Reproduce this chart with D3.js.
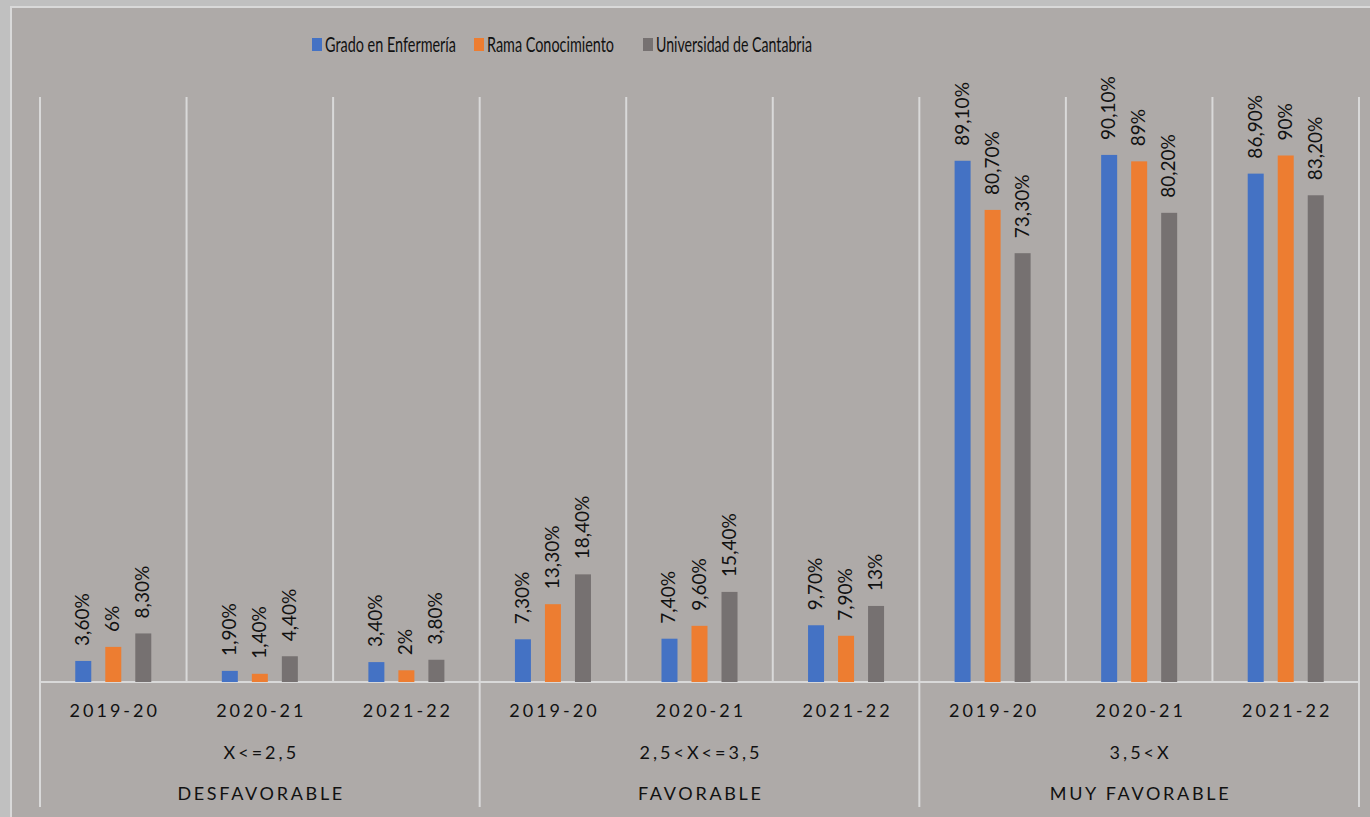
<!DOCTYPE html>
<html><head><meta charset="utf-8">
<script src="https://cdn.jsdelivr.net/npm/d3@7"></script>
<style>
html,body{margin:0;padding:0;background:#c0c0c0;}
svg{display:block;font-family:Lato, "Open Sans", sans-serif;}
</style></head>
<body>
<svg id="chart" width="1370" height="817"></svg>
<script>
const years = ["2019-20","2020-21","2021-22","2019-20","2020-21","2021-22","2019-20","2020-21","2021-22"];
const ranges = ["X<=2,5","2,5<X<=3,5","3,5<X"];
const groups = ["DESFAVORABLE","FAVORABLE","MUY FAVORABLE"];
const seriesNames = ["Grado en Enfermería","Rama Conocimiento","Universidad de Cantabria"];
const grado = [3.6,1.9,3.4,7.3,7.4,9.7,89.1,90.1,86.9];
const rama = [6,1.4,2,13.3,9.6,7.9,80.7,89,90];
const uc = [8.3,4.4,3.8,18.4,15.4,13,73.3,80.2,83.2];
const colors = ["#4472c4","#ed7d31","#767171"];

const svg = d3.select("#chart");
const W = 1370, H = 817;
const plot = {left:40, right:1359, top:97, bottom:682};
const gridColor = "#d9d9d9";

// chart background
svg.append("rect").attr("x",11).attr("y",7).attr("width",W).attr("height",H)
  .attr("fill","#aeaaa8").attr("stroke","#d9d9d9").attr("stroke-width",2);

const idx = d3.range(years.length);
const x = d3.scaleBand().domain(idx).range([plot.left, plot.right]).padding(0);
const bw = x.bandwidth();
const xs = d3.scaleBand().domain([0,1,2]).range([bw/2-45, bw/2+45]).paddingInner(0.467).paddingOuter(0.233);
const y = d3.scaleLinear().domain([0,100]).range([plot.bottom, plot.top]);

// vertical grid lines
const g = svg.append("g");
idx.concat([years.length]).forEach(i => {
  const xx = i < years.length ? x(i) : plot.right;
  const full = (i % 3 === 0);
  g.append("line").attr("x1",xx).attr("x2",xx)
    .attr("y1",plot.top).attr("y2", full ? 807 : plot.bottom)
    .attr("stroke",gridColor).attr("stroke-width",2);
});
// baseline
g.append("line").attr("x1",plot.left).attr("x2",plot.right)
  .attr("y1",plot.bottom).attr("y2",plot.bottom)
  .attr("stroke",gridColor).attr("stroke-width",2);

const fmt = v => (Number.isInteger(v) ? String(v) : v.toFixed(2).replace(".",",")) + "%";
const all = [grado, rama, uc];

all.forEach((vals, s) => {
  svg.append("g").selectAll("rect").data(vals).join("rect")
    .attr("x",(d,i)=>x(i)+xs(s))
    .attr("width",xs.bandwidth())
    .attr("y",d=>y(d))
    .attr("height",d=>y(0)-y(d))
    .attr("fill",colors[s]);
  svg.append("g").selectAll("text").data(vals).join("text")
    .attr("transform",(d,i)=>`translate(${x(i)+xs(s)+xs.bandwidth()/2+6},${y(d)-15}) rotate(-90)`)
    .attr("font-size",19).attr("fill","#111")
    .text(d=>fmt(d));
});

// category axis labels
const ls = 3;
svg.append("g").selectAll("text").data(years).join("text")
  .attr("x",(d,i)=>x(i)+bw/2+ls/2).attr("y",717)
  .attr("text-anchor","middle").attr("font-size",18).attr("letter-spacing",ls)
  .attr("fill","#111").text(d=>d);
svg.append("g").selectAll("text").data(ranges).join("text")
  .attr("x",(d,i)=>x(i*3+1)+bw/2+ls/2).attr("y",759)
  .attr("text-anchor","middle").attr("font-size",18).attr("letter-spacing",ls)
  .attr("fill","#111").text(d=>d);
const ls2 = 2.7;
svg.append("g").selectAll("text").data(groups).join("text")
  .attr("x",(d,i)=>x(i*3+1)+bw/2+ls2/2).attr("y",800)
  .attr("text-anchor","middle").attr("font-size",18).attr("letter-spacing",ls2)
  .attr("fill","#111").text(d=>d);

// legend (Calibri-like narrow text: Lato horizontally condensed)
const legX = [312, 474, 643];
const legW = [131, 127, 156];
const leg = svg.append("g");
seriesNames.forEach((n,i)=>{
  leg.append("rect").attr("x",legX[i]).attr("y",38).attr("width",10).attr("height",13).attr("fill",colors[i]);
  const t = leg.append("text").attr("x",0).attr("y",0).attr("font-size",21).attr("fill","#111").text(n);
  const len = t.node().getComputedTextLength();
  t.attr("transform",`translate(${legX[i]+13},52) scale(${legW[i]/len},1)`);
});
</script>
</body></html>
